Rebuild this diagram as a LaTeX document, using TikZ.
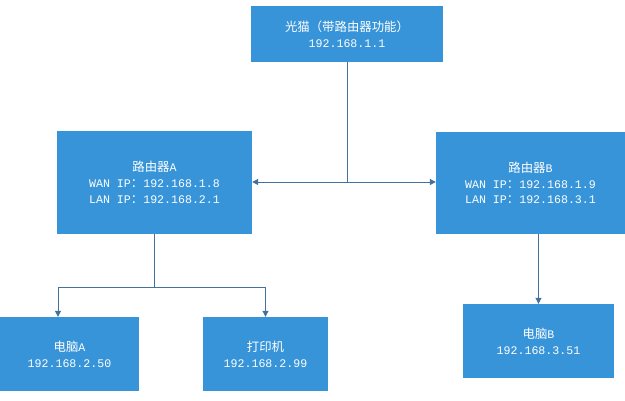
\documentclass[tikz,border=0pt]{standalone}
\usepackage{fontspec}
\setmainfont{Liberation Mono}
\newfontfamily\cjk{Noto Sans CJK SC}
\usetikzlibrary{arrows.meta,calc}
\definecolor{boxblue}{RGB}{55,148,217}
\definecolor{linecol}{RGB}{65,113,156}
\tikzset{
  netbox/.style={rectangle, fill=boxblue, draw=none, text=white, align=center,
    inner sep=0pt, font=\fontsize{11.6}{15.8}\selectfont},
  conn/.style={draw=linecol, line width=1pt},
  arr/.style={conn, -{Triangle[length=6pt,width=6pt]}}
}
\newcommand{\zh}[1]{{\cjk\fontsize{12.4}{15.8}\selectfont #1}}
\begin{document}
\begin{tikzpicture}[x=1pt,y=-1pt]
\useasboundingbox (0,0) rectangle (625,400);
\node[netbox, minimum width=192pt, minimum height=56pt] (top) at (347,34)
  {\zh{光猫（带路由器功能）}\\192.168.1.1};
\node[netbox, minimum width=195pt, minimum height=103pt] (ra) at (154.5,182.5)
  {\zh{路由器}A\\WAN IP\zh{：}192.168.1.8\\LAN IP\zh{：}192.168.2.1};
\node[netbox, minimum width=189pt, minimum height=102pt] (rb) at (530.5,183)
  {\zh{路由器}B\\WAN IP\zh{：}192.168.1.9\\LAN IP\zh{：}192.168.3.1};
\node[netbox, minimum width=139pt, minimum height=74pt] (pca) at (69.5,354)
  {\zh{电脑}A\\192.168.2.50};
\node[netbox, minimum width=125pt, minimum height=74pt] (prn) at (265.5,354)
  {\zh{打印机}\\192.168.2.99};
\node[netbox, minimum width=151pt, minimum height=74pt] (pcb) at (538.5,341)
  {\zh{电脑}B\\192.168.3.51};
\coordinate (jt) at (347,182);
\coordinate (ja) at (154.5,287);
\draw[conn] (top.south) -- (jt);
\draw[arr] (jt) -- (jt -| ra.east);
\draw[arr] (jt) -- (jt -| rb.west);
\draw[conn] (ra.south) -- (ja);
\draw[arr] (ja) -| ([xshift=-11.5pt]pca.north);
\draw[arr] (ja) -| (prn.north);
\draw[arr] (rb.south -| pcb.north) -- (pcb.north);
\end{tikzpicture}
\end{document}
